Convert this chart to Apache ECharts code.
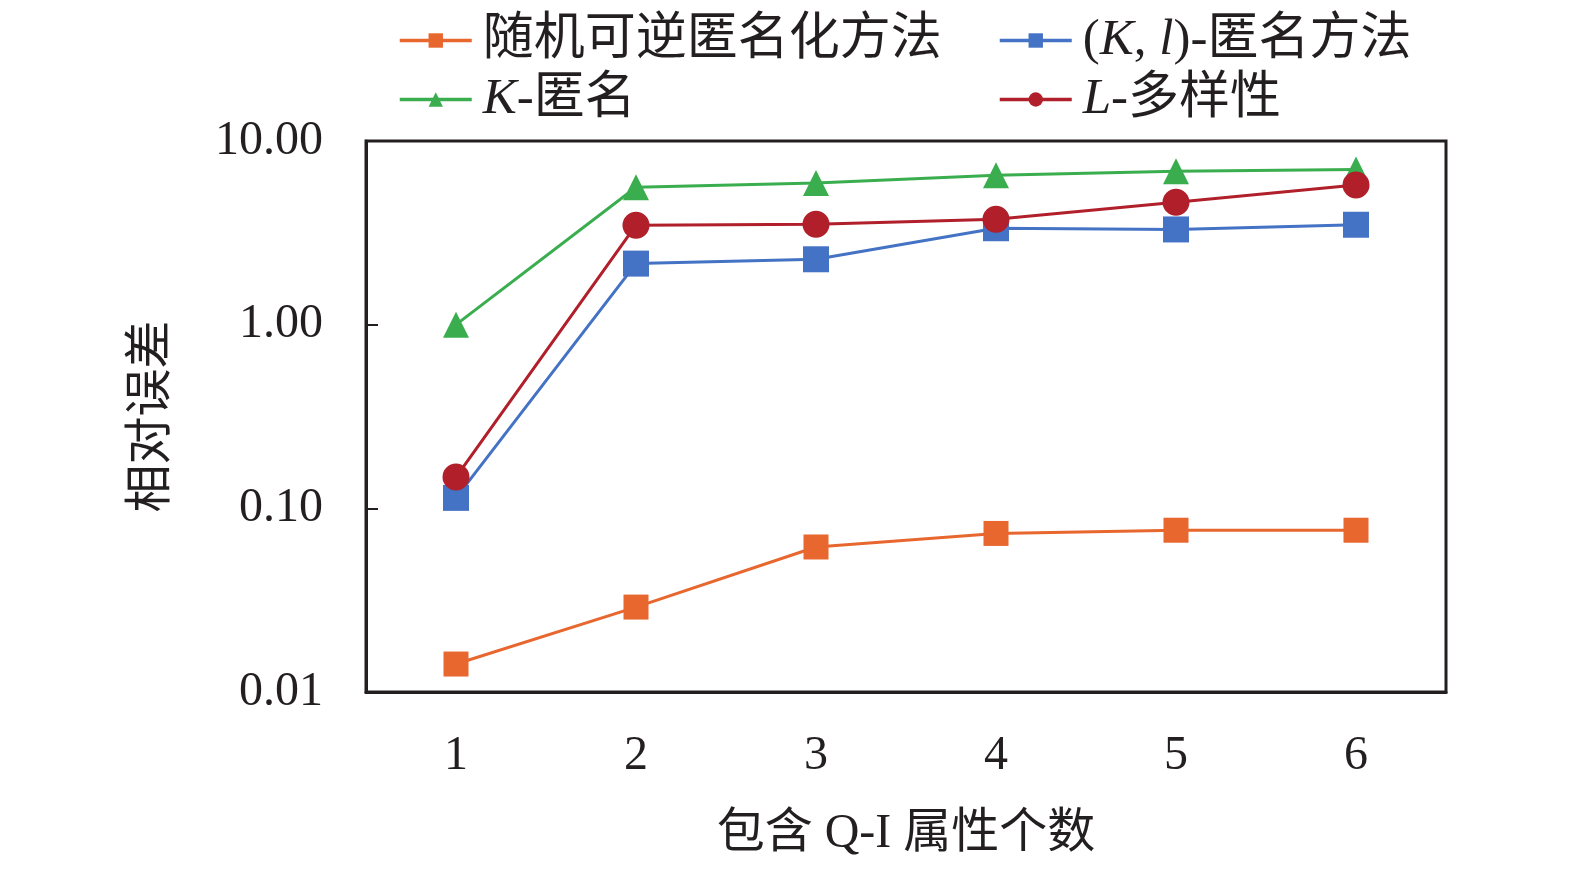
<!DOCTYPE html>
<html>
<head>
<meta charset="utf-8">
<script src="https://cdn.jsdelivr.net/npm/echarts@6/dist/echarts.min.js"></script>
<style>
html, body { margin: 0; padding: 0; background: #fff; }
#main { width: 1575px; height: 870px; }
</style>
</head>
<body>
<div id="main"></div>
<script>
var categories = ['1', '2', '3', '4', '5', '6'];
var randomReversible = [0.0142, 0.029, 0.0616, 0.073, 0.076, 0.076];
var klAnon = [0.114, 2.15, 2.27, 3.35, 3.30, 3.50];
var kAnon = [1.0, 5.6, 5.9, 6.5, 6.85, 7.0];
var lDiversity = [0.148, 3.48, 3.52, 3.75, 4.64, 5.76];

var FONT = "'Liberation Serif', 'Noto Sans CJK SC', serif";
var INK = '#231f20';

var dom = document.getElementById('main');
var myChart = echarts.init(dom);

var legendText = {
	color: INK,
	fontFamily: FONT,
	fontSize: 51,
	padding: [0, 0, 0, 6],
	rich: {
		i: { fontStyle: 'italic', fontFamily: FONT, fontSize: 51, color: INK },
		n: { fontFamily: FONT, fontSize: 51, color: INK }
	}
};
var names = {
	'随机可逆匿名化方法': '{n|随机可逆匿名化方法}',
	'(K, l)-匿名方法': '{n|(}{i|K}{n|, }{i|l}{n|)-匿名方法}',
	'K-匿名': '{i|K}{n|-匿名}',
	'L-多样性': '{i|L}{n|-多样性}'
};

function mkSeries(name, data, color, symbol, size) {
	return {
		name: name,
		type: 'line',
		data: data,
		symbol: symbol,
		symbolSize: size,
		color: color,
		lineStyle: { width: 3, color: color },
		itemStyle: { color: color }
	};
}

function mkLegend(left, items) {
	return {
		orient: 'vertical',
		left: left,
		top: 10,
		itemWidth: 72,
		itemHeight: 18,
		itemGap: 8,
		data: items,
		lineStyle: { width: 3.5 },
		formatter: function (n) { return names[n]; },
		textStyle: legendText
	};
}

var option = {
	backgroundColor: '#fff',
	animation: false,
	legend: [
		mkLegend(393, ['随机可逆匿名化方法', 'K-匿名']),
		mkLegend(993, ['(K, l)-匿名方法', 'L-多样性'])
	],
	grid: {
		left: 366,
		right: 129,
		top: 141,
		bottom: 178,
		show: true,
		borderColor: INK,
		borderWidth: 3,
		backgroundColor: 'transparent'
	},
	xAxis: {
		type: 'category',
		data: categories,
		boundaryGap: true,
		name: '包含 Q-I 属性个数',
		nameLocation: 'middle',
		nameGap: 118,
		nameTextStyle: { fontFamily: FONT, fontSize: 48, color: INK },
		axisLine: { lineStyle: { color: INK, width: 3 } },
		axisTick: { alignWithLabel: true, inside: true, length: 10, lineStyle: { color: INK, width: 2 } },
		axisLabel: { fontFamily: FONT, fontSize: 48, color: INK, margin: 40 },
		splitLine: { show: false }
	},
	yAxis: {
		type: 'log',
		logBase: 10,
		min: 0.01,
		max: 10,
		name: '相对误差',
		nameLocation: 'middle',
		nameRotate: 90,
		nameGap: 190,
		nameTextStyle: { fontFamily: FONT, fontSize: 48, color: INK },
		axisLine: { show: true, lineStyle: { color: INK, width: 3 } },
		axisTick: { show: true, inside: true, length: 12, lineStyle: { color: INK, width: 2 } },
		axisLabel: {
			fontFamily: FONT, fontSize: 48, color: INK, margin: 43,
			formatter: function (v) { return Number(v).toFixed(2); }
		},
		splitLine: { show: false }
	},
	series: [
		mkSeries('随机可逆匿名化方法', randomReversible, '#e8672f', 'rect', 25),
		mkSeries('(K, l)-匿名方法', klAnon, '#4472c4', 'rect', 26),
		mkSeries('K-匿名', kAnon, '#3aae4f', 'triangle', 26),
		mkSeries('L-多样性', lDiversity, '#b01f2a', 'circle', 27)
	]
};

myChart.setOption(option, true);
</script>
</body>
</html>
